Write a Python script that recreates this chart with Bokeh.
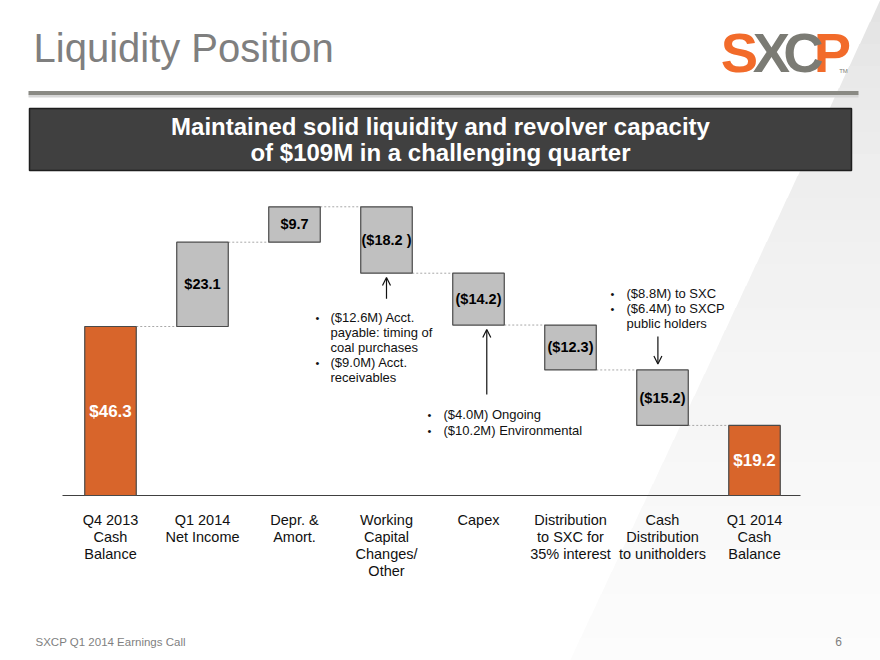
from bokeh.plotting import figure
from bokeh.models import Range1d, Arrow, OpenHead, ColumnDataSource
from bokeh.core.properties import value
from bokeh.embed import file_html
from bokeh.resources import INLINE

# ---------------- data ----------------
CATEGORIES = ["Q4 2013\nCash\nBalance", "Q1 2014\nNet Income", "Depr. &\nAmort.",
              "Working\nCapital\nChanges/\nOther", "Capex",
              "Distribution\nto SXC for\n35% interest",
              "Cash\nDistribution\nto unitholders", "Q1 2014\nCash\nBalance"]
VALUES = [46.3, 23.1, 9.7, -18.2, -14.2, -12.3, -15.2, 19.2]
KINDS = ["total", "delta", "delta", "delta", "delta", "delta", "delta", "total"]
VALUE_LABELS = ["$46.3", "$23.1", "$9.7", "($18.2 )", "($14.2)", "($12.3)", "($15.2)", "$19.2"]

NOTE_WC = ["($12.6M) Acct.", "payable:  timing of", "coal purchases", "($9.0M) Acct.", "receivables"]
NOTE_WC_BULLETS = [True, False, False, True, False]
NOTE_CAPEX = ["($4.0M) Ongoing", "($10.2M) Environmental"]
NOTE_DIST = ["($8.8M) to SXC", "($6.4M) to SXCP", "public holders"]
NOTE_DIST_BULLETS = [True, True, False]

TITLE = "Liquidity Position"
BANNER = ["Maintained solid liquidity and revolver capacity", "of $109M in a challenging quarter"]
FOOTER = "SXCP Q1 2014 Earnings Call"
PAGE = "6"

FONT = "Liberation Sans"
ORANGE = "#D8652B"
GREY_BAR = "#C0C0C0"
EDGE = "#4a4a4a"

# ---------------- layout (pixels) ----------------
W, H = 880, 660
PLOT_L, PLOT_R, BASE_Y = 64, 800, 495      # pixel extent of the category band and baseline
PX_PER_UNIT = 3.65
N = len(CATEGORIES)
PX_PER_CAT = (PLOT_R - PLOT_L) / N


def dx(px):
    return -0.5 + (px - PLOT_L) / PX_PER_CAT


def dy(py):
    return (BASE_Y - py) / PX_PER_UNIT


# ---------------- waterfall geometry ----------------
bottoms, tops, running = [], [], []
level = 0.0
for v, k in zip(VALUES, KINDS):
    if k == "total":
        bottoms.append(0.0)
        tops.append(v)
        level = v
    else:
        new = level + v
        bottoms.append(min(level, new))
        tops.append(max(level, new))
        level = new
    running.append(level)

xs = list(range(N))
colors = [ORANGE if k == "total" else GREY_BAR for k in KINDS]
lab_colors = ["white" if k == "total" else "black" for k in KINDS]
lab_sizes = ["17px" if k == "total" else "14.5px" for k in KINDS]
mids = [(b + t) / 2 for b, t in zip(bottoms, tops)]
BW = 0.56

p = figure(width=W, height=H, x_range=Range1d(dx(0), dx(W)), y_range=Range1d(dy(H), dy(0)),
           output_backend="svg", toolbar_location=None, x_axis_location=None,
           y_axis_location=None, min_border=0)
p.background_fill_color = "white"
p.border_fill_color = "white"
p.outline_line_color = None
p.xgrid.visible = False
p.ygrid.visible = False

# background decoration: light diagonal wedge with a soft vertical gradient
NSTRIP = 30


def wedge_x(py):
    return 879.7 - 0.47 * py


for k in range(NSTRIP):
    y0 = H * k / NSTRIP
    y1 = H * (k + 1) / NSTRIP
    t = ((k + 0.5) / NSTRIP) ** 0.5
    g = int(round(0xdf + (0xfc - 0xdf) * t))
    col = "#%02x%02x%02x" % (g, g, g)
    p.patch(x=[dx(wedge_x(y0)), dx(W + 2), dx(W + 2), dx(wedge_x(y1))],
            y=[dy(y0 - 0.5), dy(y0 - 0.5), dy(y1 + 0.5), dy(y1 + 0.5)],
            fill_color=col, line_color=None)

# connectors
cx0 = [i + BW / 2 for i in range(N - 1)]
cx1 = [i + 1 - BW / 2 for i in range(N - 1)]
cy = running[:-1]
p.segment(x0=cx0, y0=cy, x1=cx1, y1=cy, line_color="#a8a8a8", line_width=1, line_dash="2 2")

# baseline
p.segment(x0=[dx(62)], y0=[0], x1=[dx(800)], y1=[0], line_color="#404040", line_width=1.2)

src = ColumnDataSource(dict(x=xs, bottom=bottoms, top=tops, color=colors, mid=mids,
                            label=VALUE_LABELS, lc=lab_colors, ls=lab_sizes))
p.vbar(x="x", bottom="bottom", top="top", width=BW, fill_color="color", line_color=EDGE,
       line_width=1.2, source=src)
p.text(x="x", y="mid", text="label", text_color="lc", text_font_size="ls", text_font=value(FONT),
       text_font_style="bold", text_align="center", text_baseline="middle", source=src)

# category labels (one text row per line)
lx, ly, lt = [], [], []
for i, c in enumerate(CATEGORIES):
    for j, ln in enumerate(c.split("\n")):
        lx.append(i)
        ly.append(dy(519 + 17.3 * j))
        lt.append(ln)
p.text(x=lx, y=ly, text=lt, text_font=value(FONT), text_font_size="14.5px",
       text_color="#111111", text_align="center", text_baseline="middle")


# annotation notes
def bullets(lines, flags, px_bullet, px_text, py_first, step=15):
    tx, ty, bx, by = [], [], [], []
    for j, (ln, f) in enumerate(zip(lines, flags)):
        tx.append(dx(px_text))
        ty.append(dy(py_first + j * step))
        if f:
            bx.append(dx(px_bullet))
            by.append(dy(py_first + j * step))
    p.text(x=tx, y=ty, text=lines, text_font=value(FONT), text_font_size="13px",
           text_align="left", text_baseline="middle", text_color="#111111")
    p.text(x=bx, y=by, text=["\u2022"] * len(bx), text_font=value(FONT), text_font_size="11px",
           text_align="center", text_baseline="middle", text_color="#111111")


bullets(NOTE_WC, NOTE_WC_BULLETS, 317, 330, 317)
bullets(NOTE_CAPEX, [True, True], 429, 443, 414, step=16)
bullets(NOTE_DIST, NOTE_DIST_BULLETS, 612, 626, 293)

# arrows
head = dict(size=8, line_width=1.2, line_color="#111111")
p.add_layout(Arrow(end=OpenHead(**head), x_start=3, y_start=bottoms[3] - 7, x_end=3,
                   y_end=bottoms[3] - 1.2, line_width=1.2, line_color="#111111"))
p.add_layout(Arrow(end=OpenHead(**head), x_start=4.09, y_start=dy(394), x_end=4.09,
                   y_end=bottoms[4] - 1.2, line_width=1.2, line_color="#111111"))
p.add_layout(Arrow(end=OpenHead(**head), x_start=5.95, y_start=dy(336), x_end=5.95,
                   y_end=tops[6] + 1.6, line_width=1.2, line_color="#111111"))

# header: title, rule, banner, logo
p.text(x=[dx(33)], y=[dy(47)], text=[TITLE], text_font=value(FONT), text_font_size="40px",
       text_color="#7f7f7f", text_baseline="middle", text_align="left")
p.quad(left=[dx(28)], right=[dx(858)], top=[dy(94)], bottom=[dy(97)],
       fill_color="#d6d6d6", line_color=None)
p.quad(left=[dx(28)], right=[dx(858)], top=[dy(90.5)], bottom=[dy(94.5)],
       fill_color="#8a8a84", line_color=None)
p.quad(left=[dx(29)], right=[dx(851)], top=[dy(108)], bottom=[dy(170)],
       fill_color="#404040", line_color="#1e1e1e", line_width=1.5)
p.text(x=[dx(440)] * 2, y=[dy(126), dy(152)], text=BANNER, text_font=value(FONT),
       text_font_size="24px", text_font_style="bold", text_color="white",
       text_align="center", text_baseline="middle")

p.text(x=[dx(739), dx(832)], y=[dy(52)] * 2, text=["S", "P"], text_font=value(FONT),
       text_font_size="56px", text_font_style="bold", text_color="#F26B2A",
       text_align="center", text_baseline="middle")
p.text(x=[dx(771), dx(803)], y=[dy(52)] * 2, text=["X", "C"], text_font=value(FONT),
       text_font_size="56px", text_font_style="bold", text_color="#7b7b74",
       text_align="center", text_baseline="middle")
p.text(x=[dx(843)], y=[dy(70)], text=["TM"], text_font=value(FONT), text_font_size="6px",
       text_color="#7b7b74", text_align="center", text_baseline="middle")

# footer
p.text(x=[dx(35)], y=[dy(641)], text=[FOOTER], text_font=value(FONT), text_font_size="11.5px",
       text_color="#7f7f7f", text_align="left", text_baseline="middle")
p.text(x=[dx(838)], y=[dy(641)], text=[PAGE], text_font=value(FONT), text_font_size="12px",
       text_color="#7f7f7f", text_align="center", text_baseline="middle")

open("out.html", "w").write(file_html(p, INLINE))
